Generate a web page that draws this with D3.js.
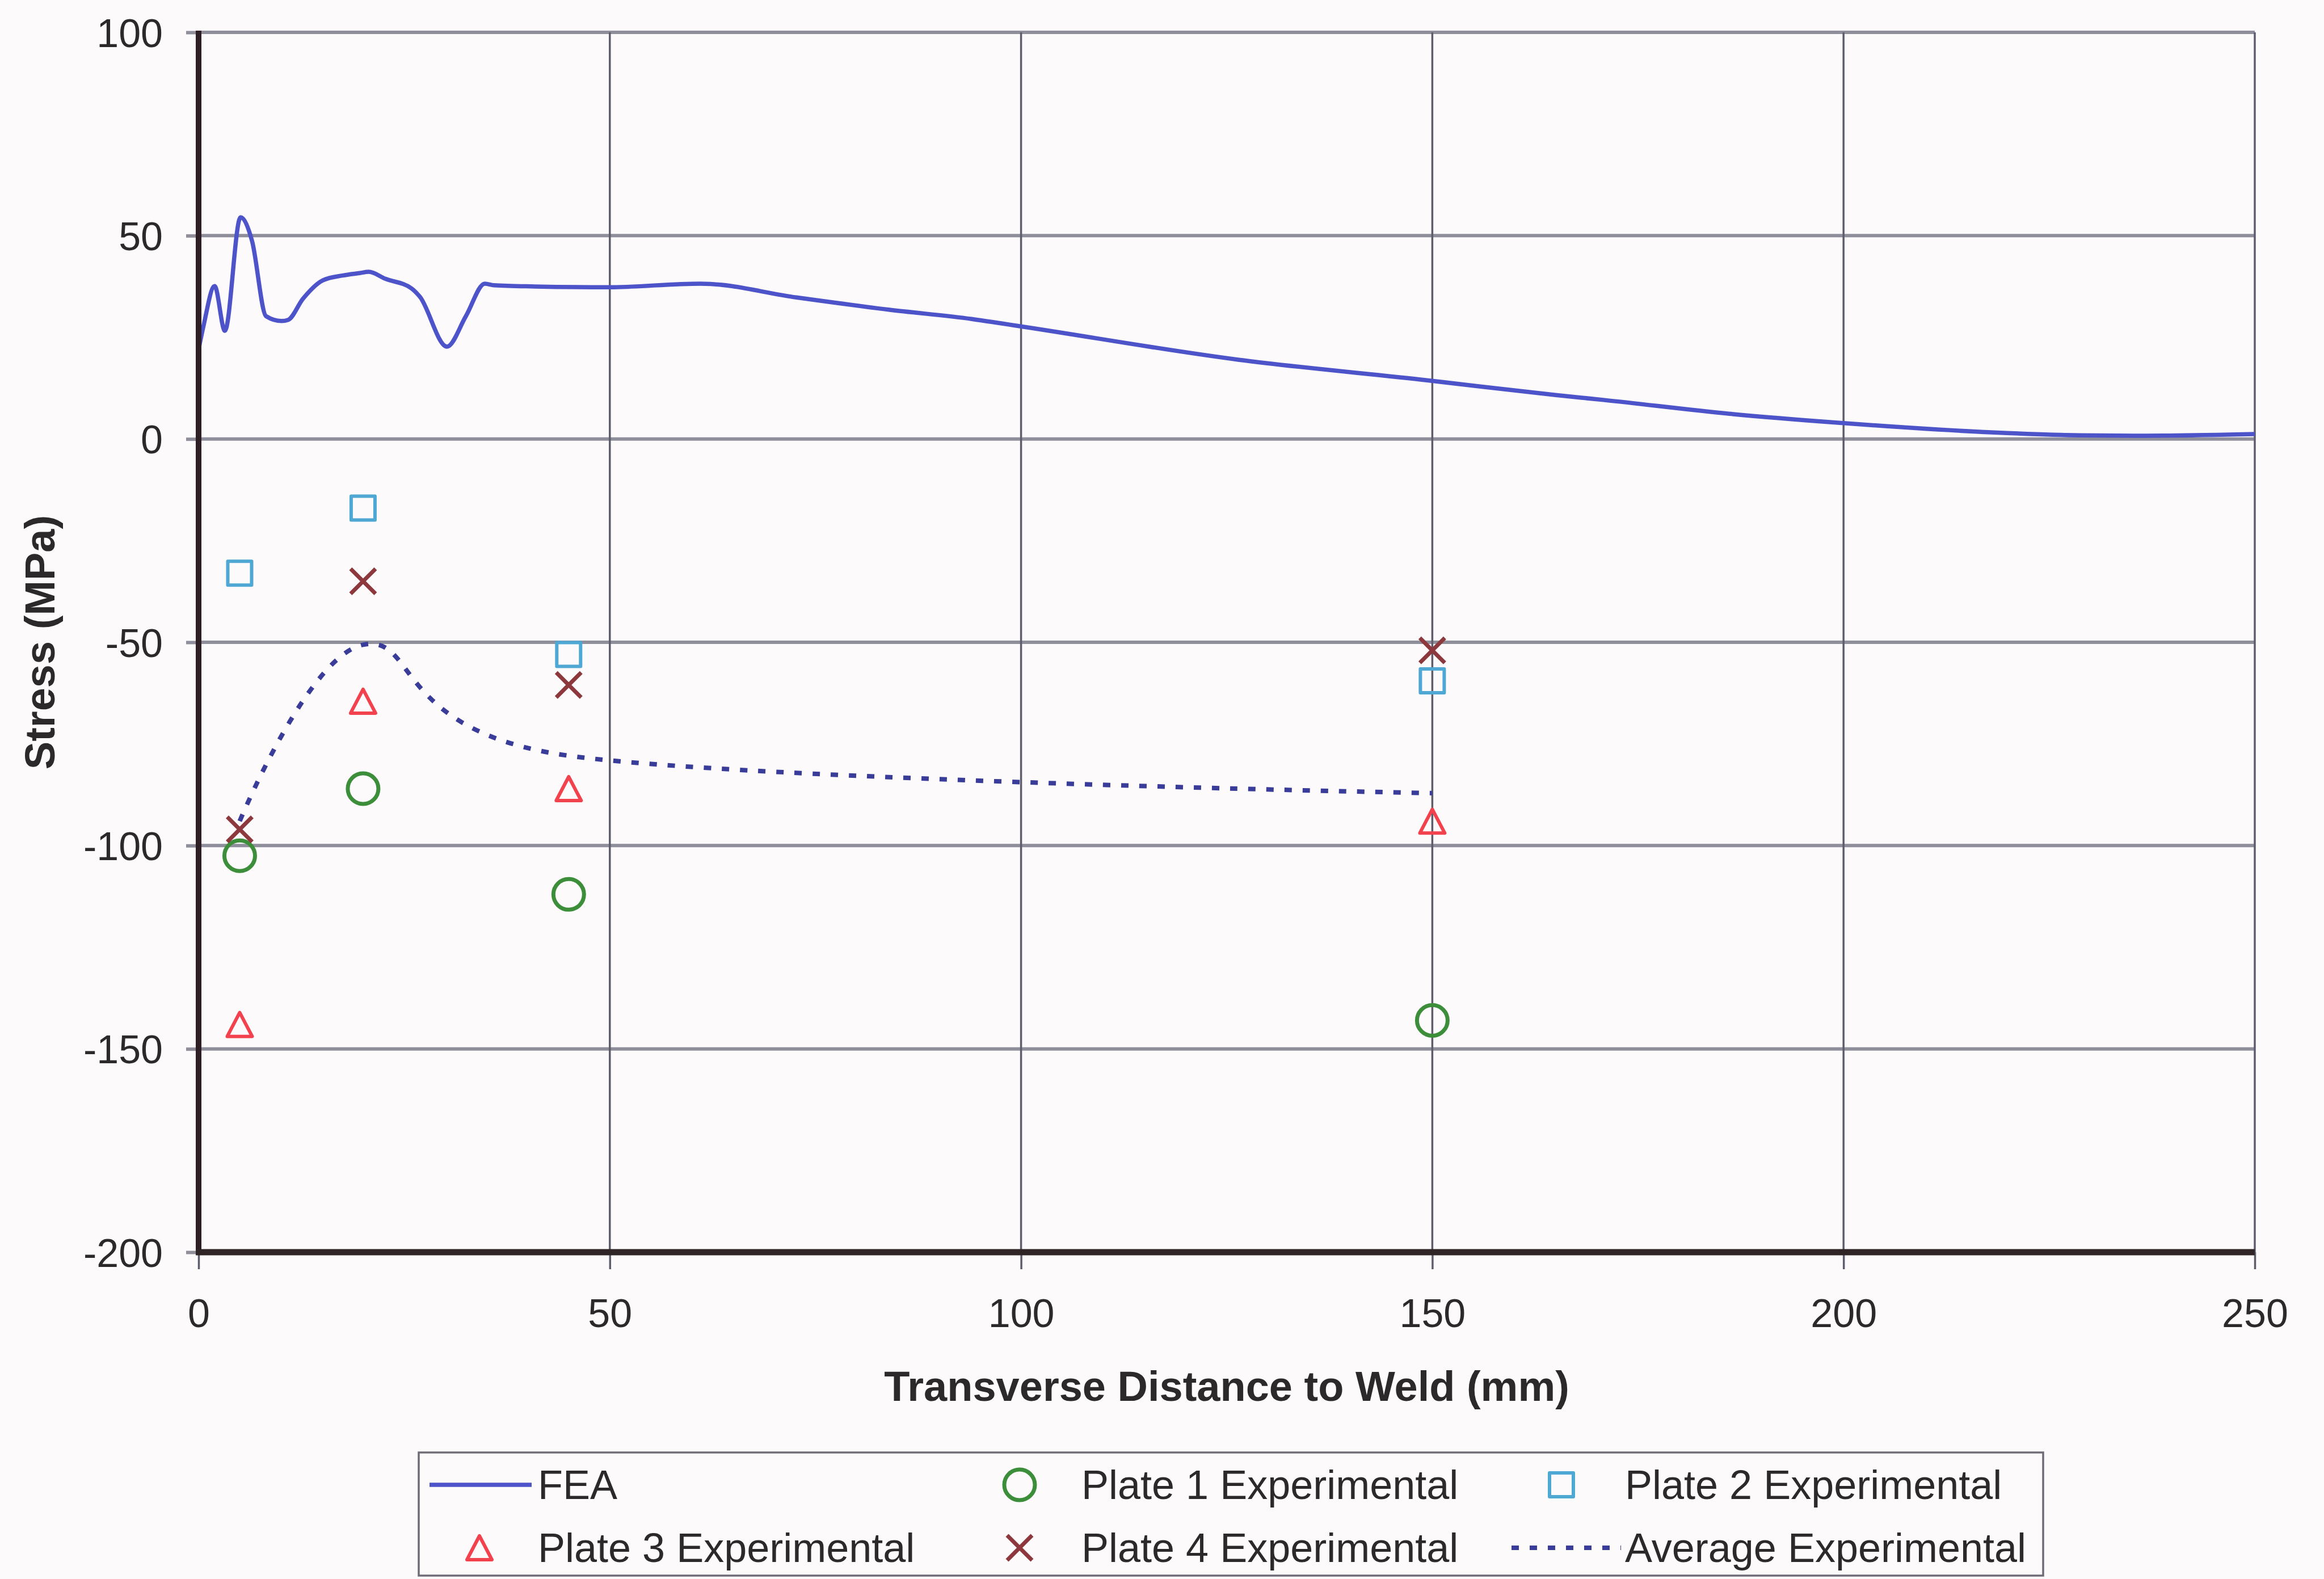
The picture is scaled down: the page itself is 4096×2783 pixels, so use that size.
<!DOCTYPE html>
<html>
<head>
<meta charset="utf-8">
<script src="https://cdn.jsdelivr.net/npm/d3@7"></script>
<style>
  html, body { margin: 0; padding: 0; background: #fdfafc; }
  svg { display: block; }
</style>
</head>
<body>
<svg id="chart" width="4096" height="2783"></svg>
<script>
// ---- FEA prediction (distance mm, stress MPa) ----
const feaX = [0, 0.6, 1.95, 3.2, 5.1, 6.5, 8.2, 10.1, 10.9, 12.7, 15.1, 17.5, 19.6, 20.7, 22.7, 25.9, 26.9, 30.2, 32.5, 34.8, 35.9, 40.9, 49.7, 61, 72.7, 83.9, 94, 99.3, 126.4, 149.5, 165, 170.8, 186.6, 199.3, 218.3, 228.8, 236.7, 250];
const feaY = [22, 27.8, 37.6, 26.6, 54.5, 48.7, 30.2, 29.0, 29.3, 34.5, 39.0, 40.2, 40.8, 41.1, 39.4, 37.0, 35.0, 22.7, 30.2, 38.2, 37.8, 37.5, 37.3, 38.2, 34.8, 31.8, 29.5, 27.9, 19.5, 14.4, 10.8, 9.6, 6.1, 4.0, 1.6, 0.9, 0.8, 1.2];

// ---- Experimental measurements ----
const sampleX = [5, 20, 45, 150];
const plate1 = [-102.5, -86, -112, -143];
const plate2 = [-33, -17, -53, -59.5];
const plate3 = [-144, -64.5, -86, -94];
const plate4 = [-96, -35, -60.5, -52];
const averageExp = [-94, -50.6, -77.9, -87.1];

// ---- Axis ticks ----
const xTicks = [0, 50, 100, 150, 200, 250];
const yTicks = [100, 50, 0, -50, -100, -150, -200];

const FONT = "'Liberation Sans', Arial, Helvetica, sans-serif";
const TEXT = "#2b2929";
const W = 4096, H = 2783;

const svg = d3.select("#chart");
svg.append("rect").attr("width", W).attr("height", H).attr("fill", "#fdfafc");

const x = d3.scaleLinear().domain([0, 250]).range([350, 3974]);
const y = d3.scaleLinear().domain([-200, 100]).range([2207, 57]);

// horizontal gridlines (100 line doubles as the top frame)
svg.append("g").selectAll("line")
  .data(yTicks.filter(v => v > -200))
  .join("line")
  .attr("x1", x(0)).attr("x2", x(250))
  .attr("y1", d => y(d)).attr("y2", d => y(d))
  .attr("stroke", "#8f8e9b").attr("stroke-width", 6);

// vertical gridlines (250 line doubles as the right frame)
svg.append("g").selectAll("line")
  .data(xTicks.filter(v => v > 0))
  .join("line")
  .attr("x1", d => x(d)).attr("x2", d => x(d))
  .attr("y1", y(100)).attr("y2", y(-200))
  .attr("stroke", "#5d5d6c").attr("stroke-width", 3.5);

// y axis ticks + labels
const gy = svg.append("g")
  .attr("transform", `translate(${x(0)},0)`)
  .call(d3.axisLeft(y).tickValues(yTicks).tickSize(22).tickSizeOuter(0)
    .tickPadding(41).tickFormat(d => String(d)));
gy.select(".domain").remove();
gy.selectAll(".tick line").attr("stroke", "#8f8e9b").attr("stroke-width", 6);
gy.selectAll(".tick text")
  .attr("font-size", 70).attr("font-family", FONT).attr("fill", TEXT)
  .attr("dy", "0.36em");

// x axis ticks + labels
const gx = svg.append("g")
  .attr("transform", `translate(0,${y(-200)})`)
  .call(d3.axisBottom(x).tickValues(xTicks).tickSize(30).tickSizeOuter(0)
    .tickFormat(d => String(d)));
gx.select(".domain").remove();
gx.selectAll(".tick line").attr("stroke", "#5d5d6c").attr("stroke-width", 3.5);
gx.selectAll(".tick text")
  .attr("font-size", 70).attr("font-family", FONT).attr("fill", TEXT)
  .attr("y", 132).attr("dy", 0);

// FEA curve
const feaLine = d3.line()
  .x(i => x(feaX[i])).y(i => y(feaY[i]))
  .curve(d3.curveMonotoneX);
svg.append("path")
  .attr("d", feaLine(d3.range(feaX.length)))
  .attr("fill", "none").attr("stroke", "#4d53c8")
  .attr("stroke-width", 7.5).attr("stroke-linejoin", "round");

// average experimental (smoothed dotted line)
const avgLine = d3.line()
  .x(i => x(sampleX[i])).y(i => y(averageExp[i]))
  .curve(d3.curveCardinal.tension(0));
svg.append("path")
  .attr("d", avgLine(d3.range(sampleX.length)))
  .attr("fill", "none").attr("stroke", "#3a3c99")
  .attr("stroke-width", 8).attr("stroke-dasharray", "13 19");

// marker shapes
const shapes = {
  circle: "M27,0A27,27 0 1,1 -27,0A27,27 0 1,1 27,0Z",
  square: "M-21,-21H21V21H-21Z",
  triangle: "M0,-21L22,21H-22Z",
  times: "M-22,-22L22,22M-22,22L22,-22"
};

const series = [
  { name: "Plate 1 Experimental", values: plate1, shape: "circle", color: "#3d8e3a", width: 7 },
  { name: "Plate 2 Experimental", values: plate2, shape: "square", color: "#4fa8d4", width: 6 },
  { name: "Plate 3 Experimental", values: plate3, shape: "triangle", color: "#f2424e", width: 6 },
  { name: "Plate 4 Experimental", values: plate4, shape: "times", color: "#8c383c", width: 7 }
];

series.forEach(s => {
  svg.append("g").selectAll("path")
    .data(s.values)
    .join("path")
    .attr("transform", (v, i) => `translate(${x(sampleX[i])},${y(v)})`)
    .attr("d", shapes[s.shape])
    .attr("fill", "none").attr("stroke", s.color)
    .attr("stroke-width", s.width).attr("stroke-linejoin", "round");
});

// main axis lines
svg.append("line")
  .attr("x1", x(0)).attr("x2", x(0)).attr("y1", y(100) - 3).attr("y2", y(-200) + 5)
  .attr("stroke", "#2e1f24").attr("stroke-width", 10);
svg.append("line")
  .attr("x1", x(0) - 5).attr("x2", x(250)).attr("y1", y(-200)).attr("y2", y(-200))
  .attr("stroke", "#2f2527").attr("stroke-width", 11);

// axis titles
svg.append("text")
  .attr("x", (x(0) + x(250)) / 2).attr("y", 2469)
  .attr("text-anchor", "middle")
  .attr("font-family", FONT).attr("font-weight", "bold").attr("font-size", 74)
  .attr("fill", TEXT)
  .text("Transverse Distance to Weld (mm)");

svg.append("text")
  .attr("transform", `translate(96,${(y(100) + y(-200)) / 2}) rotate(-90)`)
  .attr("text-anchor", "middle")
  .attr("font-family", FONT).attr("font-weight", "bold").attr("font-size", 74)
  .attr("fill", TEXT)
  .text("Stress (MPa)");

// legend
const legend = svg.append("g");
legend.append("rect")
  .attr("x", 738).attr("y", 2560).attr("width", 2863).attr("height", 217)
  .attr("fill", "none").attr("stroke", "#6e6c74").attr("stroke-width", 3.5);

const rowY = [2617, 2728];
const colMarker = [845, 1797, 2752];
const colText = [948, 1906, 2864];

const legendItems = [
  { label: "FEA", kind: "line", col: 0, row: 0 },
  { label: series[0].name, kind: "marker", s: series[0], col: 1, row: 0 },
  { label: series[1].name, kind: "marker", s: series[1], col: 2, row: 0 },
  { label: series[2].name, kind: "marker", s: series[2], col: 0, row: 1 },
  { label: series[3].name, kind: "marker", s: series[3], col: 1, row: 1 },
  { label: "Average Experimental", kind: "dotted", col: 2, row: 1 }
];

legendItems.forEach(item => {
  const cy = rowY[item.row];
  if (item.kind === "line") {
    legend.append("line")
      .attr("x1", 757).attr("x2", 937).attr("y1", cy).attr("y2", cy)
      .attr("stroke", "#4d53c8").attr("stroke-width", 7.5);
  } else if (item.kind === "dotted") {
    legend.append("line")
      .attr("x1", 2664).attr("x2", 2857).attr("y1", cy).attr("y2", cy)
      .attr("stroke", "#3a3c99").attr("stroke-width", 8).attr("stroke-dasharray", "13 19");
  } else {
    legend.append("path")
      .attr("transform", `translate(${colMarker[item.col]},${cy})`)
      .attr("d", shapes[item.s.shape])
      .attr("fill", "none").attr("stroke", item.s.color)
      .attr("stroke-width", item.s.width).attr("stroke-linejoin", "round");
  }
  legend.append("text")
    .attr("x", colText[item.col]).attr("y", cy + 25)
    .attr("font-family", FONT).attr("font-size", 72).attr("fill", TEXT)
    .text(item.label);
});
</script>
</body>
</html>
